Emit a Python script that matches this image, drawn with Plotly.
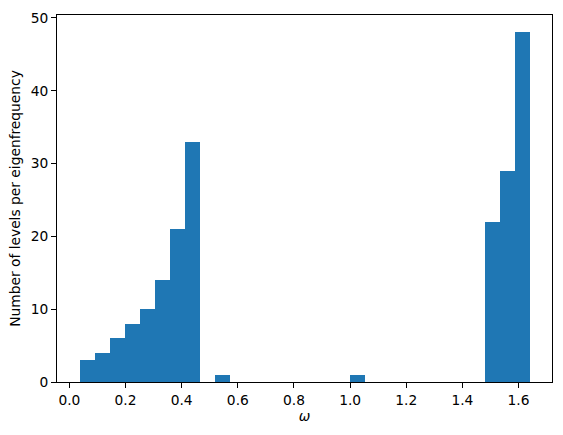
import numpy as np
import plotly.graph_objects as go

# histogram data: 30 equal bins between these limits
bin_start = 0.036
bin_end = 1.639
counts = [3, 4, 6, 8, 10, 14, 21, 33, 0, 1,
          0, 0, 0, 0, 0, 0, 0, 0, 1, 0,
          0, 0, 0, 0, 0, 0, 0, 22, 29, 48]
x_ticks = [0.0, 0.2, 0.4, 0.6, 0.8, 1.0, 1.2, 1.4, 1.6]
y_ticks = [0, 10, 20, 30, 40, 50]

edges = np.linspace(bin_start, bin_end, len(counts) + 1)
centers = (edges[:-1] + edges[1:]) / 2
width = edges[1] - edges[0]

fig = go.Figure(go.Bar(
    x=centers, y=counts, width=width,
    marker=dict(color="#1f77b4", line=dict(width=0)),
))

font = dict(family="DejaVu Sans", size=13.8, color="black")
axis_common = dict(
    showline=True, linecolor="black", linewidth=1, mirror=True,
    ticks="outside", ticklen=5, tickwidth=1, tickcolor="black",
    showgrid=False, zeroline=False, tickfont=font,
)
span = bin_end - bin_start
fig.update_layout(
    width=563, height=435,
    margin=dict(l=57, r=10, t=13, b=53),
    plot_bgcolor="white", paper_bgcolor="white",
    showlegend=False, bargap=0,
    xaxis=dict(range=[bin_start - 0.05 * span, bin_end + 0.05 * span],
               tickvals=x_ticks, ticktext=[f"{v:.1f}" for v in x_ticks],
               title=dict(text="<i>ω</i>", font=font, standoff=3),
               **axis_common),
    yaxis=dict(range=[0, max(counts) * 1.05], tickvals=y_ticks,
               title=dict(text="Number of levels per eigenfrequency", font=font, standoff=6),
               **axis_common),
)
fig.write_html("out.html")
